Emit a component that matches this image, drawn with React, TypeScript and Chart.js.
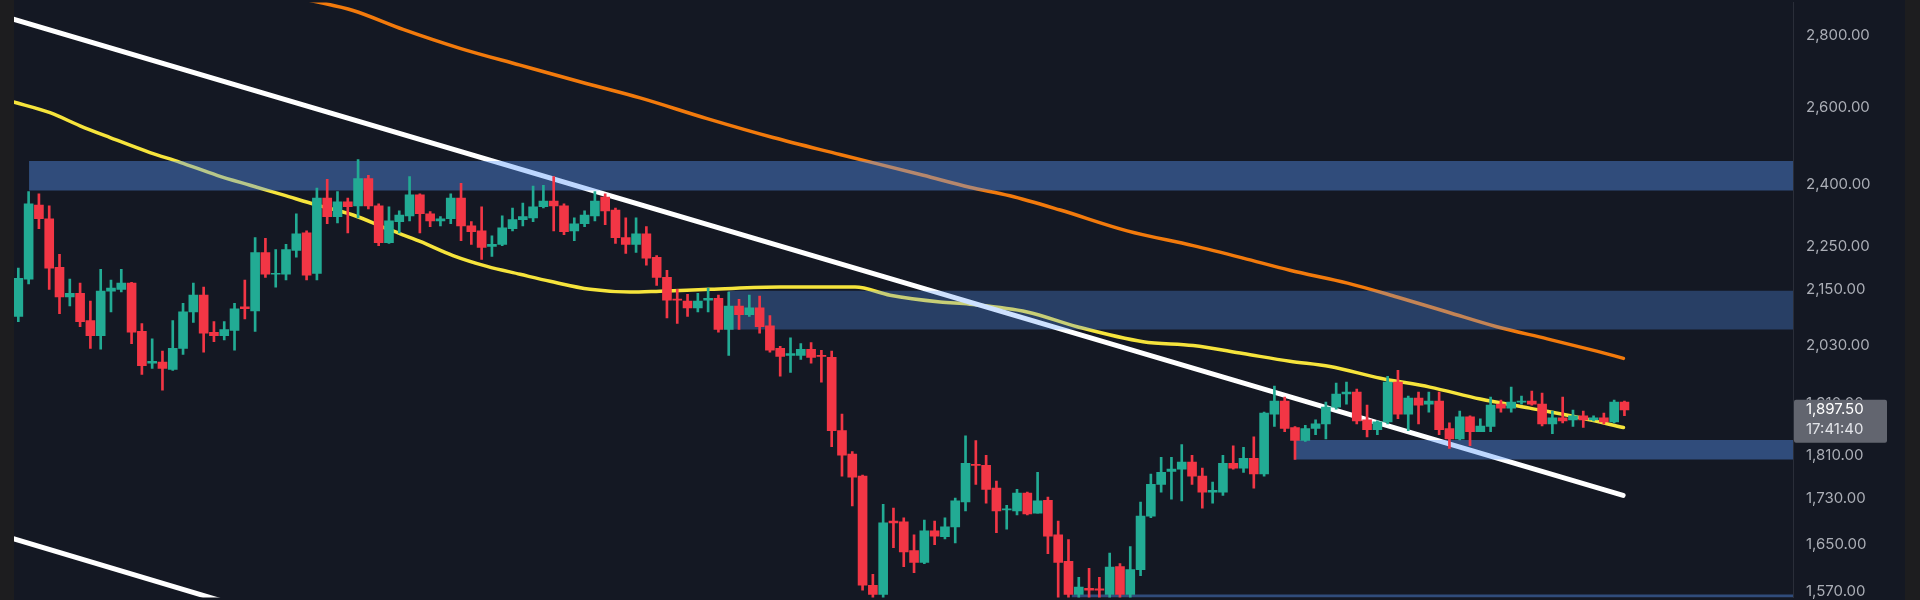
import React, { useEffect, useRef } from 'react';
import { Chart, registerables } from 'chart.js';

Chart.register(...registerables);

// ---- candle data (index 0 .. 156) ----
const opens = [
  2091, 2174, 2348, 2315, 2201, 2134, 2142, 2082, 2050, 2147,
  2151, 2165, 2059, 1992, 1994, 1979, 2023, 2101, 2138, 2057,
  2050, 2061, 2112, 2103, 2235, 2185, 2185, 2240, 2281, 2187,
  2365, 2320, 2356, 2346, 2414, 2346, 2258, 2308, 2322, 2373,
  2327, 2310, 2315, 2365, 2298, 2286, 2249, 2254, 2291, 2313,
  2317, 2344, 2358, 2346, 2286, 2303, 2322, 2368, 2336, 2270,
  2254, 2279, 2224, 2178, 2129, 2125, 2110, 2127, 2131, 2063,
  2114, 2095, 2110, 2071, 2023, 2008, 2008, 2021, 2008, 2004,
  1857, 1812, 1771, 1581, 1566, 1690, 1689, 1639, 1619, 1673,
  1663, 1680, 1724, 1793, 1791, 1749, 1710, 1708, 1740, 1704,
  1727, 1666, 1621, 1566, 1576, 1575, 1566, 1612, 1566, 1607,
  1699, 1756, 1780, 1784, 1797, 1771, 1742, 1742, 1795, 1786,
  1804, 1775, 1889, 1915, 1863, 1838, 1861, 1870, 1903, 1929,
  1933, 1878, 1859, 1874, 1953, 1889, 1921, 1909, 1915, 1861,
  1841, 1884, 1855, 1865, 1909, 1901, 1913, 1915, 1909, 1870,
  1882, 1878, 1886, 1878, 1882, 1874, 1913,
];
const highs = [
  2199, 2381, 2376, 2346, 2231, 2174, 2165, 2125, 2196, 2172,
  2196, 2167, 2076, 2043, 2017, 2082, 2120, 2165, 2156, 2080,
  2080, 2120, 2172, 2270, 2268, 2242, 2254, 2327, 2286, 2390,
  2412, 2381, 2365, 2462, 2422, 2351, 2344, 2334, 2419, 2376,
  2332, 2320, 2376, 2402, 2308, 2344, 2274, 2322, 2341, 2353,
  2395, 2397, 2419, 2351, 2317, 2334, 2381, 2376, 2341, 2317,
  2317, 2296, 2228, 2194, 2151, 2140, 2142, 2154, 2138, 2145,
  2129, 2138, 2136, 2093, 2027, 2045, 2033, 2035, 2019, 2017,
  1889, 1817, 1773, 1599, 1720, 1713, 1696, 1666, 1692, 1690,
  1696, 1731, 1847, 1838, 1810, 1762, 1718, 1747, 1742, 1778,
  1733, 1690, 1658, 1594, 1609, 1594, 1635, 1617, 1646, 1724,
  1775, 1806, 1806, 1830, 1810, 1786, 1760, 1810, 1828, 1825,
  1845, 1893, 1945, 1923, 1865, 1867, 1878, 1913, 1951, 1953,
  1939, 1907, 1876, 1965, 1977, 1925, 1933, 1933, 1933, 1872,
  1895, 1886, 1880, 1923, 1917, 1943, 1925, 1935, 1931, 1895,
  1923, 1897, 1895, 1886, 1891, 1917, 1915,
];
const lows = [
  2080, 2163, 2291, 2151, 2097, 2114, 2069, 2023, 2021, 2101,
  2145, 2033, 1969, 1981, 1937, 1977, 2010, 2078, 2015, 2037,
  2041, 2019, 2086, 2059, 2178, 2156, 2172, 2224, 2172, 2172,
  2303, 2305, 2281, 2317, 2339, 2251, 2256, 2281, 2310, 2281,
  2296, 2298, 2303, 2263, 2254, 2219, 2226, 2251, 2286, 2298,
  2308, 2341, 2286, 2277, 2263, 2296, 2310, 2301, 2256, 2233,
  2235, 2206, 2160, 2088, 2076, 2091, 2101, 2101, 2057, 2008,
  2063, 2091, 2055, 2015, 1965, 1973, 2000, 1992, 1953, 1826,
  1771, 1717, 1573, 1552, 1555, 1644, 1612, 1602, 1617, 1649,
  1659, 1652, 1708, 1756, 1722, 1670, 1676, 1701, 1701, 1704,
  1634, 1560, 1555, 1555, 1558, 1560, 1555, 1558, 1558, 1597,
  1696, 1742, 1729, 1726, 1756, 1713, 1722, 1736, 1784, 1778,
  1749, 1771, 1865, 1855, 1802, 1836, 1849, 1841, 1899, 1909,
  1870, 1845, 1849, 1870, 1880, 1857, 1870, 1893, 1849, 1823,
  1839, 1828, 1855, 1855, 1893, 1893, 1909, 1907, 1866, 1851,
  1872, 1865, 1863, 1876, 1870, 1872, 1886,
];
const closes = [
  2176, 2351, 2315, 2199, 2134, 2142, 2080, 2050, 2147, 2154,
  2165, 2057, 1987, 1996, 1981, 2023, 2101, 2138, 2055, 2050,
  2063, 2108, 2108, 2235, 2185, 2187, 2242, 2279, 2183, 2365,
  2320, 2356, 2344, 2414, 2346, 2258, 2310, 2324, 2373, 2327,
  2310, 2315, 2365, 2298, 2284, 2247, 2254, 2293, 2313, 2320,
  2344, 2358, 2346, 2284, 2303, 2324, 2358, 2334, 2270, 2254,
  2279, 2222, 2178, 2127, 2127, 2110, 2125, 2131, 2063, 2114,
  2095, 2110, 2069, 2019, 2006, 2012, 2021, 2004, 2006, 1857,
  1810, 1769, 1581, 1566, 1687, 1687, 1637, 1619, 1673, 1664,
  1680, 1726, 1795, 1791, 1747, 1708, 1711, 1740, 1703, 1726,
  1664, 1619, 1566, 1578, 1573, 1573, 1611, 1566, 1607, 1699,
  1756, 1778, 1784, 1797, 1771, 1742, 1745, 1795, 1786, 1804,
  1775, 1891, 1915, 1861, 1838, 1861, 1870, 1903, 1929, 1933,
  1876, 1859, 1874, 1953, 1889, 1921, 1907, 1915, 1859, 1841,
  1884, 1855, 1866, 1907, 1901, 1913, 1915, 1909, 1870, 1882,
  1876, 1886, 1878, 1882, 1874, 1913, 1897.5,
];

// ---- price axis ----
const yTicks = [2800, 2600, 2400, 2250, 2150, 2030, 1910, 1810, 1730, 1650, 1570];
const yMin = 1561;
const yMax = 2899;
const xMin = -0.42;
const xMax = 172.37;
const lastTime = '17:41:40';

// ---- moving averages (candle index, price) ----
const emaFastX = [-0.6, 3.08, 5.99, 8.91, 12.79, 15.71, 19.3, 22.51, 25.71, 29.01, 32.51, 35.81, 39.02, 42.22, 45.53, 48.73, 51.65, 55.54, 59.42, 62.33, 67.19, 74.0, 81.27, 84.67, 89.53, 92.4, 97.98, 102.84, 109.25, 114.1, 118.96, 123.5, 127.4, 132.3, 137.1, 142.0, 146.8, 151.7, 155.9];
const emaFastY = [2615, 2585, 2550, 2519, 2480, 2455, 2422, 2397, 2373, 2348, 2324, 2291, 2261, 2228, 2203, 2185, 2169, 2151, 2145, 2147, 2151, 2156, 2156, 2138, 2123, 2118, 2101, 2069, 2037, 2029, 2012, 1996, 1985, 1961, 1943, 1919, 1901, 1882, 1863];
const emaSlowX = [26.39, 29.3, 32.51, 37.37, 42.9, 48.73, 55.24, 60.39, 66.9, 73.3, 79.8, 87.9, 92.4, 96.3, 101.2, 107.7, 114.1, 118.96, 123.5, 129.1, 133.9, 138.8, 143.6, 148.5, 153.3, 155.9];
const emaSlowY = [2917, 2899, 2875, 2819, 2764, 2716, 2664, 2625, 2569, 2519, 2475, 2422, 2392, 2371, 2336, 2286, 2251, 2222, 2194, 2165, 2134, 2101, 2069, 2043, 2017, 2002];

// ---- trend lines ----
const trendUpperX = [-0.6, 155.87];
const trendUpperY = [2850, 1736];
const trendLowerX = [-0.6, 27.36];
const trendLowerY = [1660, 1518];

// ---- zones ----
const zoneStart = [1.04, 68.94, 123.9, 102.3];
const zoneTop = [2458, 2148, 1839, 1566];
const zoneBottom = [2384, 2063, 1802, 1540];
const zoneAlpha = [0.4, 0.3, 0.4, 0.4];
const zoneEnd = 176;

const UP = '#22ab94';
const DOWN = '#f23645';

const fmt = (v: number) => {
  const s = Number(v).toFixed(2);
  const [i, d] = s.split('.');
  return i.replace(/\B(?=(\d{3})+(?!\d))/g, ',') + '.' + d;
};

const bgPlugin = {
  id: 'bgPlugin',
  beforeDraw(chart: any) {
    const { ctx, width, height, chartArea, scales } = chart;
    ctx.save();
    ctx.fillStyle = '#1d1d1f';
    ctx.fillRect(0, 0, width, height);
    ctx.fillStyle = '#141823';
    ctx.fillRect(chartArea.left, 0, scales.y.right - chartArea.left, height);
    ctx.restore();
  },
};

const priceLabelPlugin = {
  id: 'priceLabel',
  afterDraw(chart: any) {
    const { ctx, scales } = chart;
    const price = closes[closes.length - 1];
    const y = scales.y.getPixelForValue(price);
    const x0 = scales.y.left + 1;
    ctx.save();
    ctx.fillStyle = '#62656f';
    ctx.beginPath();
    if ((ctx as any).roundRect) (ctx as any).roundRect(x0, y - 10, 93, 43, 2);
    else ctx.rect(x0, y - 10, 93, 43);
    ctx.fill();
    ctx.font = '15px Inter, "Noto Sans", sans-serif';
    ctx.textAlign = 'left';
    ctx.textBaseline = 'middle';
    ctx.fillStyle = '#ffffff';
    ctx.fillText(fmt(price), scales.y.left + 13, y);
    ctx.fillStyle = '#e2e4e9';
    ctx.fillText(lastTime, scales.y.left + 13, y + 20);
    ctx.restore();
  },
};

export default function App() {
  const ref = useRef<HTMLCanvasElement>(null);

  useEffect(() => {
    document.body.style.margin = '0';
    document.body.style.background = '#1d1d1f';
    const idx = opens.map((_, i) => i);
    const colors = idx.map((i) => (closes[i] >= opens[i] ? UP : DOWN));

    const zoneSets = zoneStart.map((s, k) => ({
      type: 'line' as const,
      data: [
        { x: s, y: zoneTop[k] },
        { x: zoneEnd, y: zoneTop[k] },
      ],
      borderColor: 'transparent',
      borderWidth: 0,
      pointRadius: 0,
      backgroundColor: `rgba(89,155,254,${zoneAlpha[k]})`,
      fill: { value: zoneBottom[k] },
      order: 2,
      clip: 0,
    }));

    const chart = new Chart(ref.current as HTMLCanvasElement, {
      type: 'bar',
      data: {
        datasets: [
          {
            type: 'bar',
            data: idx.map((i) => ({ x: i, y: [opens[i], closes[i]] })) as any,
            backgroundColor: colors,
            borderWidth: 0,
            barThickness: 9,
            grouped: false,
            minBarLength: 1,
            order: 0,
            clip: 0,
          } as any,
          {
            type: 'bar',
            data: idx.map((i) => ({ x: i, y: [lows[i], highs[i]] })) as any,
            backgroundColor: colors,
            borderWidth: 0,
            barThickness: 2,
            grouped: false,
            order: 1,
            clip: 0,
          } as any,
          ...(zoneSets as any[]),
          {
            type: 'line',
            data: trendUpperX.map((x, i) => ({ x, y: trendUpperY[i] })),
            borderColor: '#ffffff',
            borderWidth: 5,
            borderCapStyle: 'round',
            pointRadius: 0,
            fill: false,
            order: 3,
            clip: 0,
          } as any,
          {
            type: 'line',
            data: trendLowerX.map((x, i) => ({ x, y: trendLowerY[i] })),
            borderColor: '#ffffff',
            borderWidth: 5,
            pointRadius: 0,
            fill: false,
            order: 3,
            clip: 0,
          } as any,
          {
            type: 'line',
            data: emaFastX.map((x, i) => ({ x, y: emaFastY[i] })),
            borderColor: '#f6e43c',
            borderWidth: 3.5,
            borderCapStyle: 'round',
            pointRadius: 0,
            cubicInterpolationMode: 'monotone',
            fill: false,
            order: 4,
            clip: 0,
          } as any,
          {
            type: 'line',
            data: emaSlowX.map((x, i) => ({ x, y: emaSlowY[i] })),
            borderColor: '#f27a0c',
            borderWidth: 3.5,
            borderCapStyle: 'round',
            pointRadius: 0,
            cubicInterpolationMode: 'monotone',
            fill: false,
            order: 4,
            clip: 0,
          } as any,
        ],
      },
      options: {
        responsive: false,
        animation: false,
        events: [],
        layout: { padding: { left: 14, right: 15, top: 0, bottom: 0 } },
        plugins: {
          legend: { display: false },
          tooltip: { enabled: false },
          title: { display: false },
        },
        scales: {
          x: {
            type: 'linear',
            min: xMin,
            max: xMax,
            display: false,
            offset: false,
            bounds: 'data',
          },
          y: {
            type: 'logarithmic',
            position: 'right',
            min: yMin,
            max: yMax,
            bounds: 'data',
            beginAtZero: false,
            grid: { display: false, drawTicks: false },
            border: { display: true, color: '#2a2e39', width: 1 },
            ticks: {
              autoSkip: false,
              padding: 13,
              color: '#abaeb6',
              font: { family: 'Inter', size: 15 },
              callback: (v: any) => fmt(Number(v)),
            },
            afterBuildTicks: (s: any) => {
              s.ticks = yTicks.map((v) => ({ value: v }));
            },
            afterFit: (s: any) => {
              s.width = 112;
              s.paddingTop = 0;
              s.paddingBottom = 0;
            },
          } as any,
        },
      } as any,
      plugins: [bgPlugin, priceLabelPlugin],
    });

    let alive = true;
    if ((document as any).fonts && (document as any).fonts.load) {
      (document as any).fonts
        .load('15px Inter')
        .then(() => {
          if (alive) chart.update();
        })
        .catch(() => {});
    }
    return () => {
      alive = false;
      chart.destroy();
    };
  }, []);

  return (
    <div style={{ width: 1920, height: 600 }}>
      <canvas ref={ref} width={1920} height={600} style={{ display: 'block', width: 1920, height: 600 }} />
    </div>
  );
}
